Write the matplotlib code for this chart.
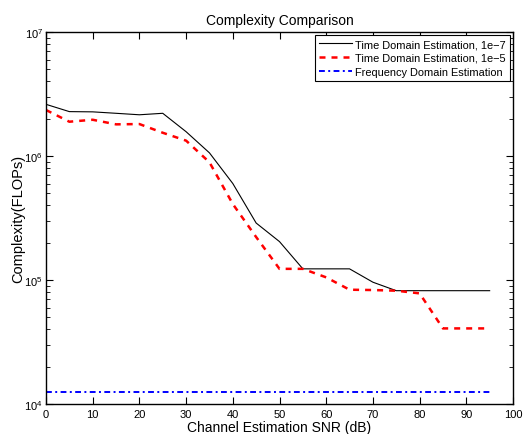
import matplotlib
matplotlib.use("Agg")
import matplotlib.pyplot as plt
from matplotlib.ticker import LogLocator, MultipleLocator

plt.rcParams['font.family'] = ['Liberation Sans', 'DejaVu Sans']
plt.rcParams['mathtext.fontset'] = 'custom'
plt.rcParams['mathtext.rm'] = 'Liberation Sans'

snr = [0, 5, 10, 15, 20, 25, 30, 35, 40, 45, 50, 55, 60, 65, 70, 75, 80, 85, 90, 95]
time_1e7 = [2.61e6, 2.28e6, 2.27e6, 2.21e6, 2.15e6, 2.21e6, 1.57e6, 1.06e6, 6.0e5, 2.88e5,
            2.04e5, 1.23e5, 1.23e5, 1.23e5, 9.6e4, 8.2e4, 8.2e4, 8.2e4, 8.2e4, 8.2e4]
time_1e5 = [2.35e6, 1.89e6, 1.96e6, 1.80e6, 1.81e6, 1.54e6, 1.33e6, 8.9e5, 4.1e5, 2.22e5,
            1.23e5, 1.23e5, 1.05e5, 8.35e4, 8.3e4, 8.2e4, 7.8e4, 4.07e4, 4.07e4, 4.07e4]
freq = [1.26e4] * len(snr)

labels = ['Time Domain Estimation, 1e\u22127', 'Time Domain Estimation, 1e\u22125',
          'Frequency Domain Estimation']

fig = plt.figure(figsize=(5.29, 4.35), dpi=100)
ax = fig.add_axes([46/529, 1-405/435, (513-46)/529, (405-33)/435])

ax.semilogy(snr, time_1e7, color='black', lw=0.8, ls='-', label=labels[0])
ax.semilogy(snr, time_1e5, color='red', lw=1.8, ls=(0, (2.4, 2.4)), label=labels[1])
ax.semilogy(snr, freq, color='blue', lw=1.4, ls=(0, (3, 1.75, 1, 1.75)), label=labels[2])

ax.set_xlim(0, 100)
ax.set_ylim(1e4, 1e7)
ax.xaxis.set_major_locator(MultipleLocator(10))
ax.yaxis.set_major_locator(LogLocator(base=10, numticks=10))
ax.yaxis.set_minor_locator(LogLocator(base=10, subs=range(2, 10), numticks=20))
ax.tick_params(which='both', direction='in', top=True, right=True, labelsize=8)
ax.tick_params(which='major', length=5, width=0.8)
ax.tick_params(which='minor', length=3, width=0.6)
ax.tick_params(axis='y', which='both', pad=2.2)
for s in ax.spines.values():
    s.set_linewidth(1.0)

ax.set_title('Complexity Comparison', fontsize=10, pad=6)
ax.set_xlabel('Channel Estimation SNR (dB)', fontsize=10, labelpad=1)
ax.set_ylabel('Complexity(FLOPs)', fontsize=10.5)
ax.yaxis.set_label_coords(-0.045, 0.5)

leg = ax.legend(loc='upper right', fontsize=7.9, frameon=True, fancybox=False,
                edgecolor='black', borderpad=0.35, labelspacing=0.35, handlelength=3,
                handletextpad=0.3, borderaxespad=0.3, framealpha=1)
leg.get_frame().set_linewidth(0.8)

fig.savefig('out.png', dpi=100)
